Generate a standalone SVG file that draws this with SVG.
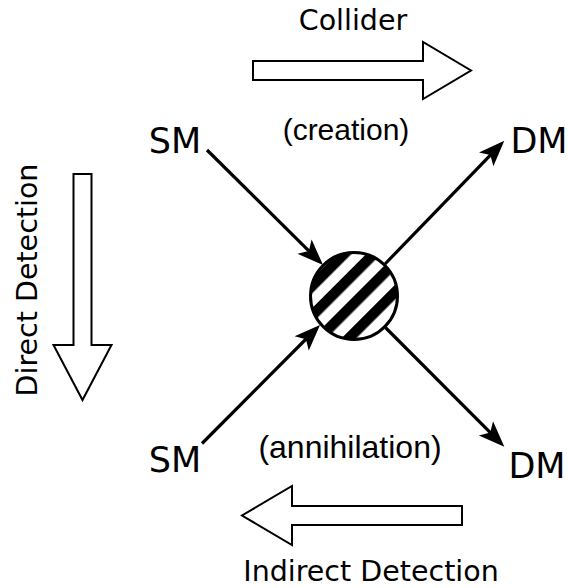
<svg xmlns="http://www.w3.org/2000/svg" width="568" height="588" viewBox="0 0 568 588">
<style>
.lbl{font-family:"DejaVu Sans",sans-serif;fill:#000}
.big{font-size:35px}
.mid{font-size:28.5px}
.paren{font-family:"Liberation Sans",Arial,sans-serif;fill:#000}
.outline{fill:#fff;stroke:#000;stroke-width:2;stroke-linejoin:miter}
.edge{stroke:#000;stroke-width:3.2;fill:none;marker-end:url(#ah)}
</style>
<defs>
<marker id="ah" markerUnits="userSpaceOnUse" markerWidth="40" markerHeight="40" viewBox="-30 -15 40 30" refX="0" refY="0" orient="auto" overflow="visible">
<path d="M5,0 L-21,-10 L-15,0 L-21,10 Z" fill="#000"/>
</marker>
<pattern id="stripes" patternUnits="userSpaceOnUse" width="21" height="21" patternTransform="translate(354 296) rotate(45)">
<rect x="0" y="0" width="21" height="21" fill="#fff"/>
<rect x="0" y="0" width="10.5" height="21" fill="#000"/>
</pattern>
</defs>
<rect width="568" height="588" fill="#fff"/>
<g id="connectors">
<line class="edge" x1="207" y1="150" x2="319.5" y2="261.5"/>
<line class="edge" x1="202" y1="443.5" x2="316.5" y2="328.5"/>
<line class="edge" x1="385" y1="264" x2="500.8" y2="144.3"/>
<line class="edge" x1="385.4" y1="327.5" x2="500.8" y2="443.2"/>
</g>
<g id="vertex">
<circle cx="354" cy="296" r="43.5" fill="url(#stripes)" stroke="#000" stroke-width="3"/>
</g>
<g id="sm-top"><text class="lbl big" x="175" y="153" text-anchor="middle">SM</text></g>
<g id="dm-top"><text class="lbl big" x="539" y="153" text-anchor="middle">DM</text></g>
<g id="sm-bottom"><text class="lbl big" x="175" y="472" text-anchor="middle">SM</text></g>
<g id="dm-bottom"><text class="lbl big" x="537" y="478" text-anchor="middle">DM</text></g>
<g id="collider">
<polygon class="outline" points="253,61 423,61 423,42 471,70.5 423,99 423,80 253,80"/>
<text class="lbl mid" x="353" y="30" text-anchor="middle">Collider</text>
<text class="paren" x="346" y="140" text-anchor="middle" font-size="30">(creation)</text>
</g>
<g id="direct">
<polygon class="outline" points="73.5,174 91.5,174 91.5,345 111.5,345 82.5,400 53.5,345 73.5,345"/>
<text class="lbl mid" transform="translate(37 280) rotate(-90)" text-anchor="middle">Direct Detection</text>
</g>
<g id="indirect">
<polygon class="outline" points="462,506 292,506 292,486 242,515.5 292,545 292,525 462,525"/>
<text class="lbl mid" x="371" y="581" text-anchor="middle">Indirect Detection</text>
<text class="paren" x="350" y="458" text-anchor="middle" font-size="32">(annihilation)</text>
</g>
</svg>
